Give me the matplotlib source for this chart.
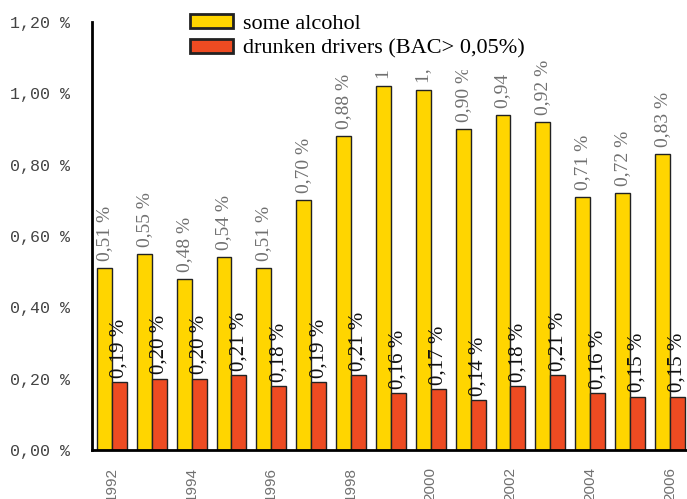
import matplotlib
matplotlib.use('Agg')
import matplotlib.pyplot as plt
import numpy as np
from matplotlib.ticker import FuncFormatter

#Data
years = list(range(1992, 2007))
some_alcohol = [0.51, 0.55, 0.48, 0.54, 0.51, 0.70, 0.88, 1.02, 1.01, 0.90, 0.94, 0.92, 0.71, 0.72, 0.83]
drunken = [0.19, 0.20, 0.20, 0.21, 0.18, 0.19, 0.21, 0.16, 0.17, 0.14, 0.18, 0.21, 0.16, 0.15, 0.15]
year_labels = [str(y) if y % 2 == 0 else '' for y in years]

def pct(v):
    return ('%.2f' % v).replace('.', ',') + ' %'

#Visualization
fig = plt.figure(figsize=(6.87, 4.99), dpi=100)
ax = fig.add_axes([92/687, 49/499, 1 - 92/687, (450-22)/499])
index = np.arange(len(years))
width = 0.375
b1 = ax.bar(index - width/2, some_alcohol, width, color='#FFD500', edgecolor='#222222',
            linewidth=1, label='some alcohol')
b2 = ax.bar(index + width/2, drunken, width, color='#EE4B22', edgecolor='#222222',
            linewidth=1, label='drunken drivers (BAC> 0,05%)')

for i, v in enumerate(some_alcohol):
    ax.annotate(pct(v), (i - width/2, v), xytext=(0, 5), textcoords='offset points',
                rotation=90, ha='center', va='bottom', fontsize=14,
                family='Liberation Serif', color='#707070')
for i, v in enumerate(drunken):
    ax.annotate(pct(v), (i + width/2, v), xytext=(0, 3), textcoords='offset points',
                rotation=90, ha='center', va='bottom', fontsize=15,
                family='Liberation Serif', color='#111111')

ax.set_ylim(0, 1.2)
ax.set_xlim(-0.5, 14.43)
ax.set_yticks(np.arange(0, 1.21, 0.2))
ax.yaxis.set_major_formatter(FuncFormatter(lambda v, p: pct(v)))
ax.set_xticks(index)
ax.set_xticklabels(year_labels, rotation=90, color='#707070', fontsize=11,
                   family='Liberation Sans')
for t in ax.get_yticklabels():
    t.set_family('Liberation Mono')
    t.set_fontsize(12)
    t.set_color('#444444')
ax.tick_params(axis='both', length=0)
ax.tick_params(axis='y', pad=16)
ax.tick_params(axis='x', pad=12)
for s in ['top', 'right']:
    ax.spines[s].set_visible(False)
for s in ['left', 'bottom']:
    ax.spines[s].set_linewidth(2)

leg = ax.legend(loc='upper left', bbox_to_anchor=(180/687, 1 - 4/499),
                bbox_transform=fig.transFigure, prop={'family': 'Liberation Serif', 'size': 16},
                frameon=True, fancybox=False, framealpha=1, edgecolor='white',
                handlelength=1.95, handleheight=0.62, handletextpad=0.45,
                labelspacing=0.22, borderpad=0.45, borderaxespad=0)
for h in leg.legend_handles:
    h.set_linewidth(2)
leg.set_zorder(10)

fig.savefig('out.png', dpi=100)
